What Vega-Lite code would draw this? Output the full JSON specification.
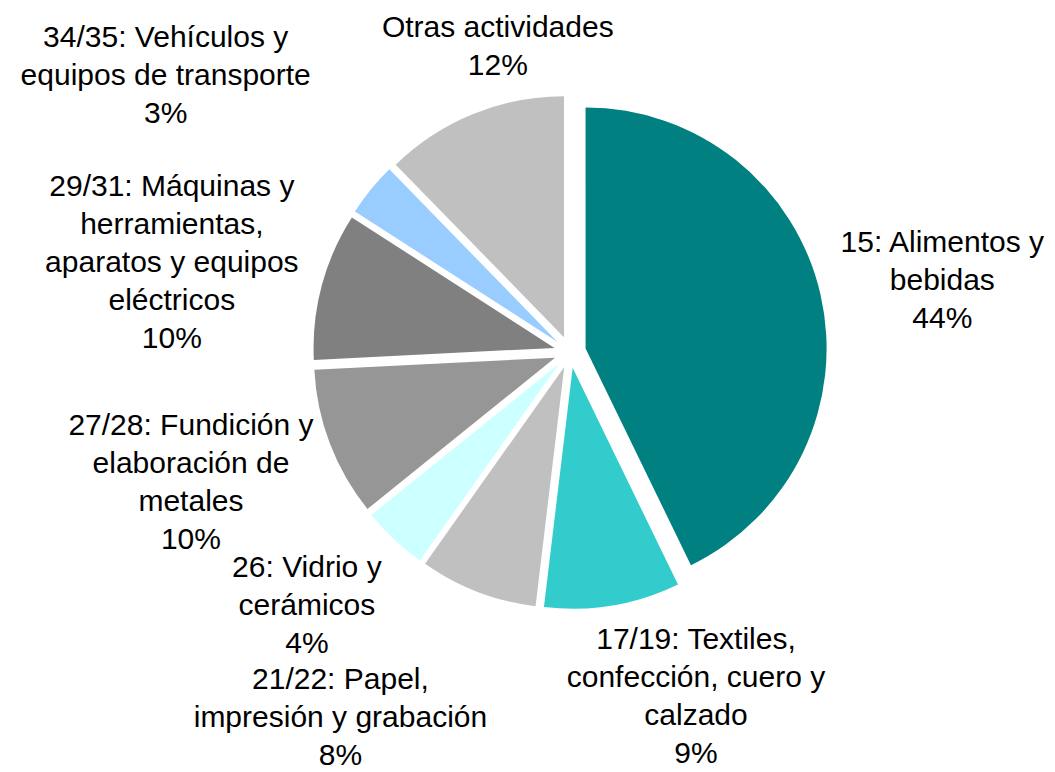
{
  "$schema": "https://vega.github.io/schema/vega-lite/v6.json",
  "autosize": {"type": "none"},
  "width": 970,
  "height": 704,
  "padding": {"left": 85, "top": 0, "right": 0, "bottom": 68},
  "background": "white",
  "config": {"view": {"stroke": null}},
  "data": {
    "values": [
      {"order": 0, "cat": "15: Alimentos y bebidas", "value": 42.8, "label": "15: Alimentos y\nbebidas\n44%"},
      {"order": 1, "cat": "17/19: Textiles, confección, cuero y calzado", "value": 9.1, "label": "17/19: Textiles,\nconfección, cuero y\ncalzado\n9%"},
      {"order": 2, "cat": "21/22: Papel, impresión y grabación", "value": 7.9, "label": "21/22: Papel,\nimpresión y grabación\n8%"},
      {"order": 3, "cat": "26: Vidrio y cerámicos", "value": 4.4, "label": "26: Vidrio y\ncerámicos\n4%"},
      {"order": 4, "cat": "27/28: Fundición y elaboración de metales", "value": 10.0, "label": "27/28: Fundición y\nelaboración de\nmetales\n10%"},
      {"order": 5, "cat": "29/31: Máquinas y herramientas, aparatos y equipos eléctricos", "value": 9.9, "label": "29/31: Máquinas y\nherramientas,\naparatos y equipos\neléctricos\n10%"},
      {"order": 6, "cat": "34/35: Vehículos y equipos de transporte", "value": 3.6, "label": "34/35: Vehículos y\nequipos de transporte\n3%"},
      {"order": 7, "cat": "Otras actividades", "value": 12.3, "label": "Otras actividades\n12%"}
    ]
  },
  "transform": [
    {"window": [{"op": "sum", "field": "value", "as": "cum"}], "sort": [{"field": "order"}], "frame": [null, 0]},
    {"calculate": "datum.cum - datum.value", "as": "start"},
    {"calculate": "datum.cum", "as": "end"},
    {"calculate": "(datum.start + datum.end) / 2", "as": "mid"},
    {"calculate": "datum.mid / 100 * 2 * PI", "as": "midRad"}
  ],
  "layer": [
    {
      "mark": {
        "type": "arc",
        "radius": 241,
        "xOffset": {"expr": "16 * sin(datum.midRad)"},
        "yOffset": {"expr": "-16 * cos(datum.midRad)"}
      },
      "encoding": {
        "theta": {"field": "start", "type": "quantitative", "stack": null, "scale": {"domain": [0, 100], "range": [0, 6.283185307179586]}},
        "theta2": {"field": "end"},
        "color": {
          "field": "cat",
          "type": "nominal",
          "legend": null,
          "scale": {
            "domain": [
              "15: Alimentos y bebidas",
              "17/19: Textiles, confección, cuero y calzado",
              "21/22: Papel, impresión y grabación",
              "26: Vidrio y cerámicos",
              "27/28: Fundición y elaboración de metales",
              "29/31: Máquinas y herramientas, aparatos y equipos eléctricos",
              "34/35: Vehículos y equipos de transporte",
              "Otras actividades"
            ],
            "range": ["#008080", "#33CCCC", "#C0C0C0", "#CCFFFF", "#969696", "#808080", "#99CCFF", "#C0C0C0"]
          }
        },
        "order": {"field": "order"}
      }
    },
    {
      "mark": {
        "type": "text",
        "radius": 380,
        "font": "Liberation Sans",
        "fontSize": 30,
        "lineHeight": 38,
        "lineBreak": "\n",
        "align": "center",
        "baseline": "middle",
        "color": "#000000",
        "dx": {"expr": "[2, 63, -93, -3, -24, -31, -110, 71][datum.order]"},
        "dy": {"expr": "[-24, -87, -27, -61, -61, -67, -74, 28][datum.order]"}
      },
      "encoding": {
        "theta": {"field": "mid", "type": "quantitative", "stack": null},
        "text": {"field": "label", "type": "nominal"}
      }
    }
  ]
}
